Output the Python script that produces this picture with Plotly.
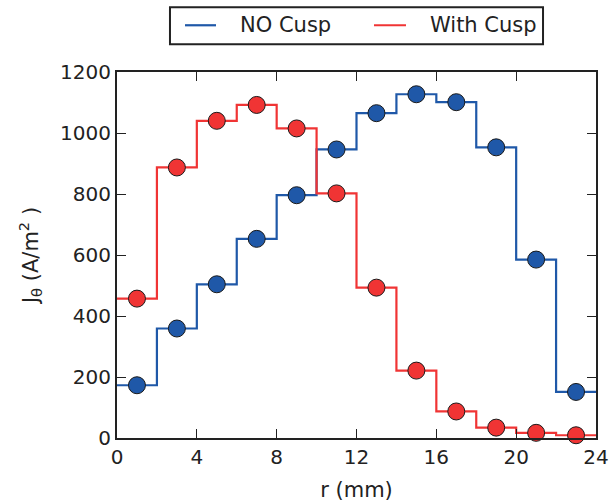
import plotly.graph_objects as go

# radial bin centres (mm) and current density J_theta (A/m^2)
r_mm = [1, 3, 5, 7, 9, 11, 13, 15, 17, 19, 21, 23]
j_no_cusp = [173, 359, 504, 653, 796, 946, 1065, 1127, 1101, 953, 585, 151]
j_with_cusp = [457, 887, 1040, 1092, 1015, 802, 493, 221, 87, 34, 17, 9]
bin_width = 2

x_ticks = [0, 4, 8, 12, 16, 20, 24]
y_ticks = [0, 200, 400, 600, 800, 1000, 1200]

series_names = ["NO Cusp", "With Cusp"]
BLUE = "#1f58a8"
RED = "#f03434"
INK = "#222222"
FONT = "DejaVu Sans"

fig = go.Figure()


def add_series(values, color, name):
    # step outline: each value spans its whole bin
    edges = [c - bin_width / 2 for c in r_mm] + [r_mm[-1] + bin_width / 2]
    fig.add_trace(go.Scatter(
        x=edges, y=values + [values[-1]], mode="lines", line_shape="hv",
        line=dict(color=color, width=2.2), name=name, showlegend=False,
    ))
    fig.add_trace(go.Scatter(
        x=r_mm, y=values, mode="markers",
        marker=dict(color=color, size=17, line=dict(color="#1a1a1a", width=1)),
        showlegend=False, cliponaxis=False,
    ))


add_series(j_no_cusp, BLUE, series_names[0])
add_series(j_with_cusp, RED, series_names[1])

axis_common = dict(
    showline=True, linecolor=INK, linewidth=2, mirror="allticks",
    ticks="inside", ticklen=9, tickwidth=1.3, tickcolor=INK,
    showgrid=False, zeroline=False, automargin=False,
    tickfont=dict(family=FONT, size=20, color=INK),
)

fig.update_xaxes(
    range=[0, 24], tickvals=x_ticks,
    title=dict(text="r (mm)", font=dict(family=FONT, size=21, color=INK), standoff=14),
    **axis_common,
)
fig.update_yaxes(
    range=[0, 1200], tickvals=y_ticks,
    title=dict(text="J<sub>θ</sub> (A/m<sup>2</sup> )",
               font=dict(family=FONT, size=21, color=INK), standoff=16),
    **axis_common,
)

# boxed legend placed above the axes
legend_shapes = [
    dict(type="rect", xref="paper", yref="paper", x0=0.1106, x1=0.8894,
         y0=1.0758, y1=1.177, line=dict(color=INK, width=2), fillcolor="white"),
    dict(type="line", xref="paper", yref="paper", x0=0.142, x1=0.2067,
         y0=1.1277, y1=1.1277, line=dict(color=BLUE, width=2.2)),
    dict(type="line", xref="paper", yref="paper", x0=0.5365, x1=0.6033,
         y0=1.1277, y1=1.1277, line=dict(color=RED, width=2.2)),
]
legend_texts = [
    dict(text=series_names[0], x=0.2526, y=1.1277),
    dict(text=series_names[1], x=0.649, y=1.1277),
]
for t in legend_texts:
    fig.add_annotation(xref="paper", yref="paper", xanchor="left", yanchor="middle",
                       showarrow=False, font=dict(family=FONT, size=21, color=INK), **t)

fig.update_layout(
    width=610, height=503,
    margin=dict(l=117, r=14, t=72, b=65),
    paper_bgcolor="white", plot_bgcolor="white",
    shapes=legend_shapes,
    showlegend=False,
)

fig.write_html("out.html")
